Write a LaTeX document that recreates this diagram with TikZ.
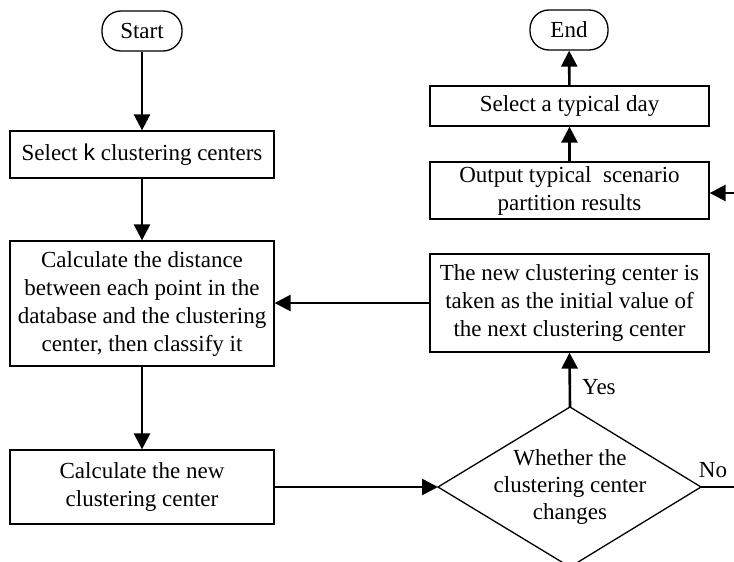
\documentclass[tikz,border=0pt]{standalone}
\usepackage{fontspec}
\setmainfont{Liberation Serif}
\newfontfamily\ksans{Liberation Sans}
\usetikzlibrary{arrows.meta}
\begin{document}
\begin{tikzpicture}[x=1pt,y=-1pt,
  box/.style={draw, line width=1.3pt, align=center, inner sep=0pt, font=\fontsize{23}{28}\selectfont},
  term/.style={box, rounded corners=19pt},
  conn/.style={line width=2.6pt, -{Triangle[length=16pt,width=16pt]}},
  plain/.style={line width=2.6pt},
  lbl/.style={font=\fontsize{23}{27}\selectfont, inner sep=0pt}]
\useasboundingbox (0,0) rectangle (734,562);
% left column
\node[term, minimum width=80pt, minimum height=40pt] (start) at (142,31) {Start};
\node[box, minimum width=264pt, minimum height=47pt] (selk) at (142,154.5) {Select {\ksans k} clustering centers};
\node[box, minimum width=264pt, minimum height=125pt] (dist) at (142,303.5) {Calculate the distance\\between each point in the\\database and the clustering\\center, then classify it};
\node[box, minimum width=264pt, minimum height=74pt] (newc) at (142,487) {Calculate the new\\clustering center};
% diamond
\coordinate (dl) at (438,487);
\coordinate (dr) at (701,487);
\coordinate (dt) at (570,407);
\coordinate (db) at (570,567);
\draw[line width=1.3pt] (dl) -- (dt) -- (dr) -- (db) -- cycle;
\node[lbl, align=center] (dtext) at (570,487) {Whether the\\clustering center\\changes};
% right column
\node[box, minimum width=279pt, minimum height=98pt] (newcc) at (569.5,303) {The new clustering center is\\taken as the initial value of\\the next clustering center};
\node[box, minimum width=279pt, minimum height=57pt] (out) at (569.5,190.5) {Output typical\ \ scenario\\partition results};
\node[box, minimum width=279pt, minimum height=40pt] (day) at (569.5,106) {Select a typical day};
\node[term, minimum width=78pt, minimum height=40pt] (end) at (569,30) {End};
\coordinate (rin) at (734,193);
\coordinate (rno) at (734,487);
% connectors
\draw[conn] (start) -- (selk);
\draw[conn] (selk) -- (dist);
\draw[conn] (dist) -- (newc);
\draw[conn] (newc.east) -- (dl);
\draw[conn] (dt) -- (newcc.south);
\draw[conn] (newcc.west) -- (dist.east |- newcc.west);
\draw[conn] (out) -- (day);
\draw[conn] (day) -- (end);
\draw[conn] (rin) -- (out.east |- rin);
\draw[plain] (dr) -- (rno);
\node[lbl, anchor=west] (yes) at (582,387) {Yes};
\node[lbl] (no) at (713,470) {No};
\end{tikzpicture}
\end{document}
